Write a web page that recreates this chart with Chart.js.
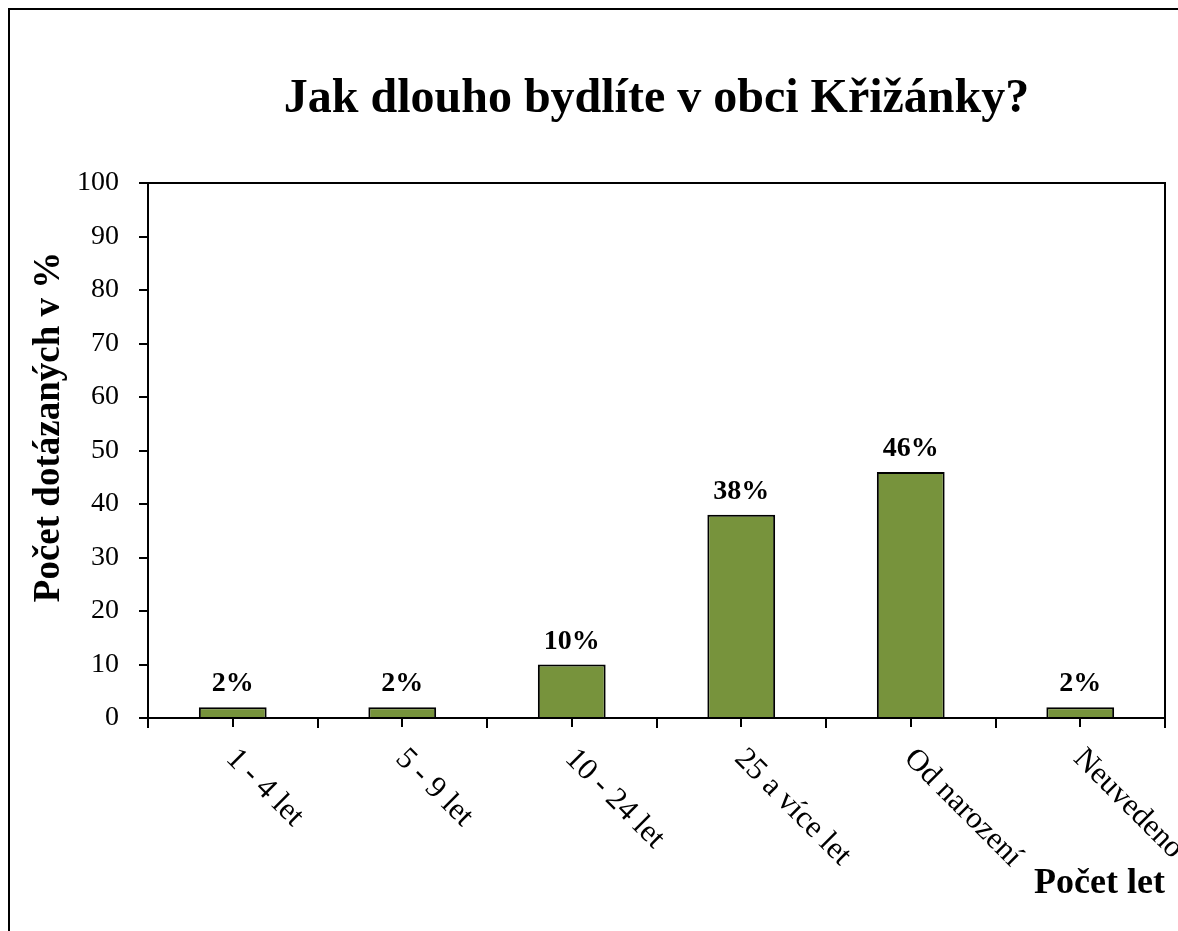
<!DOCTYPE html>
<html>
<head>
<meta charset="utf-8">
<title>Jak dlouho bydlíte v obci Křižánky?</title>
<script src="https://cdn.jsdelivr.net/npm/chart.js@4/dist/chart.umd.min.js"></script>
<style>
    html, body { margin: 0; padding: 0; background: #fff; overflow: hidden; }
    #wrap { width: 1178px; height: 931px; }
</style>
</head>
<body>
<div id="wrap"><canvas id="chart" width="1178" height="931"></canvas></div>
<script>
// data
const categories = ['1 - 4 let', '5 - 9 let', '10 - 24 let', '25 a více let', 'Od narození', 'Neuvedeno'];
const values = [2, 2, 10, 38, 46, 2];
const valueLabels = ['2%', '2%', '10%', '38%', '46%', '2%'];
const yMin = 0;
const yMax = 100;
const yStep = 10;

const SERIF = "'Liberation Serif', 'Times New Roman', serif";

// extra drawing: frame, plot box, centre ticks, rotated labels, value labels
const decorations = {
    id: 'decorations',
    afterDraw: (chart) => {
        const ctx = chart.ctx;
        const area = chart.chartArea;
        const xs = chart.scales.x;
        ctx.save();

        // outer frame (runs off the page right and bottom)
        ctx.strokeStyle = '#000';
        ctx.lineWidth = 2;
        ctx.beginPath();
        ctx.moveTo(9, chart.height + 5);
        ctx.lineTo(9, 9);
        ctx.lineTo(chart.width + 5, 9);
        ctx.stroke();

        // top and right of plot box
        ctx.beginPath();
        ctx.moveTo(area.left, area.top);
        ctx.lineTo(area.right, area.top);
        ctx.lineTo(area.right, area.bottom + 10);
        ctx.stroke();

        // ticks under category centres
        categories.forEach((c, i) => {
            const x = Math.round(xs.getPixelForValue(i));
            ctx.beginPath();
            ctx.moveTo(x, area.bottom);
            ctx.lineTo(x, area.bottom + 9);
            ctx.stroke();
        });

        // category labels, turned 45 deg clockwise
        ctx.fillStyle = '#000';
        ctx.font = '31px ' + SERIF;
        ctx.textAlign = 'left';
        ctx.textBaseline = 'middle';
        categories.forEach((c, i) => {
            const x = xs.getPixelForValue(i);
            ctx.save();
            ctx.translate(x - 2, area.bottom + 36);
            ctx.rotate(Math.PI / 4);
            ctx.fillText(c, 0, 0);
            ctx.restore();
        });

        // value labels over bars
        ctx.font = 'bold 28px ' + SERIF;
        ctx.textAlign = 'center';
        ctx.textBaseline = 'alphabetic';
        chart.getDatasetMeta(0).data.forEach((bar, i) => {
            ctx.fillText(valueLabels[i], bar.x, bar.y - 16);
        });

        // y axis title
        ctx.font = 'bold 37px ' + SERIF;
        ctx.textBaseline = 'middle';
        ctx.save();
        ctx.translate(49, 427);
        ctx.rotate(-Math.PI / 2);
        ctx.fillText('Počet dotázaných v %', 0, 0);
        ctx.restore();

        ctx.restore();
    }
};

new Chart(document.getElementById('chart'), {
    type: 'bar',
    data: {
        labels: categories,
        datasets: [{
            data: values,
            backgroundColor: '#77933C',
            borderColor: '#000',
            borderWidth: 2,
            barPercentage: 0.4,
            categoryPercentage: 1.0
        }]
    },
    options: {
        responsive: false,
        animation: false,
        layout: {
            padding: { left: 0, right: 13, top: 0, bottom: 0 }
        },
        plugins: {
            legend: { display: false },
            tooltip: { enabled: false },
            title: {
                display: true,
                text: 'Jak dlouho bydlíte v obci Křižánky?',
                color: '#000',
                fullSize: false,
                font: { family: SERIF, size: 48, weight: 'bold', lineHeight: 1 },
                padding: { top: 76, bottom: 59 }
            }
        },
        scales: {
            x: {
                offset: true,
                afterFit: (scale) => { scale.height = 213; },
                grid: {
                    display: true,
                    drawOnChartArea: false,
                    drawTicks: true,
                    tickLength: 10,
                    color: '#000',
                    lineWidth: 2,
                    offset: true
                },
                border: { display: true, color: '#000', width: 2 },
                ticks: { display: false },
                title: {
                    display: true,
                    text: 'Počet let',
                    align: 'end',
                    color: '#000',
                    font: { family: SERIF, size: 36, weight: 'bold', lineHeight: 1 },
                    padding: { top: 0, bottom: 29 }
                }
            },
            y: {
                min: yMin,
                max: yMax,
                afterFit: (scale) => { scale.width = 148; },
                grid: {
                    display: true,
                    drawOnChartArea: false,
                    drawTicks: true,
                    tickLength: 9,
                    color: '#000',
                    lineWidth: 2
                },
                border: { display: true, color: '#000', width: 2 },
                ticks: {
                    stepSize: yStep,
                    color: '#000',
                    padding: 20,
                    font: { family: SERIF, size: 28 }
                }
            }
        }
    },
    plugins: [decorations]
});
</script>
</body>
</html>
